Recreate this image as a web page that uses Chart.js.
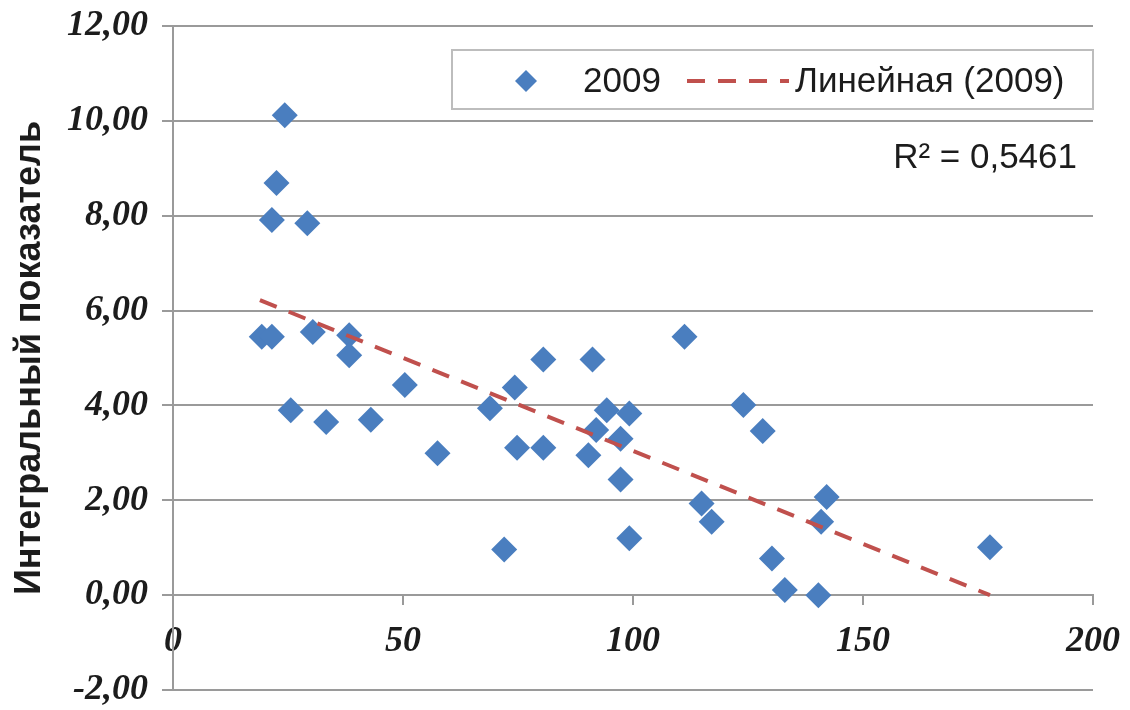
<!DOCTYPE html>
<html>
<head>
<meta charset="utf-8">
<script src="https://cdn.jsdelivr.net/npm/chart.js@4.4.1/dist/chart.umd.min.js"></script>
<style>
  html, body { margin: 0; padding: 0; background: #ffffff; }
  #wrap { width: 1130px; height: 710px; position: relative; }
</style>
</head>
<body>
<div id="wrap"><canvas id="c" width="1130" height="710"></canvas></div>
<script>
// Observations for 2009: x value and integral index
const xValues = [
  24.3, 22.5, 21.5, 29.2, 19.3, 21.5, 30.4, 38.3, 38.3, 50.4,
  25.6, 33.3, 43.0, 80.5, 91.2, 111.2, 74.3, 68.9, 94.3, 99.2,
  92.0, 97.3, 57.5, 74.8, 80.5, 90.3, 97.3, 99.2, 72.0, 124.0,
  128.2, 114.9, 117.1, 142.1, 140.9, 130.2, 133.0, 140.3, 177.6
];
const yValues = [
  10.12, 8.69, 7.91, 7.84, 5.45, 5.45, 5.55, 5.48, 5.06, 4.43,
  3.90, 3.65, 3.70, 4.97, 4.97, 5.45, 4.38, 3.94, 3.90, 3.83,
  3.48, 3.30, 2.99, 3.11, 3.11, 2.95, 2.44, 1.20, 0.96, 4.01,
  3.46, 1.93, 1.55, 2.07, 1.55, 0.77, 0.11, 0.00, 1.01
];

// Linear trend line end points
const trendX = [18.9, 177.6];
const trendY = [6.22, 0.00];

const seriesLabel = '2009';
const trendLabel = 'Линейная (2009)';
const rSquaredText = 'R² = 0,5461';
const yAxisTitle = 'Интегральный показатель';

// Axis ranges and tick steps
const xTicks = [0, 50, 100, 150, 200];
const yTicks = [-2, 0, 2, 4, 6, 8, 10, 12];

const BLUE = '#4A7EBF';
const RED = '#C0504D';
const GRID = '#9a9a9a';
const TEXT = '#1c1c1c';

const points = xValues.map((x, i) => ({ x: x, y: yValues[i] }));
const trend = trendX.map((x, i) => ({ x: x, y: trendY[i] }));

// Boxed legend and R² caption inside the plot area
const boxedLegend = {
  id: 'boxedLegend',
  afterDraw(chart) {
    const ctx = chart.ctx;
    const ds = chart.data.datasets;
    ctx.save();
    // frame
    ctx.fillStyle = '#ffffff';
    ctx.fillRect(452, 50, 641, 59);
    ctx.strokeStyle = '#bdbdbd';
    ctx.lineWidth = 2;
    ctx.strokeRect(452, 50, 641, 59);

    const cy = 81;
    // scatter marker
    ctx.fillStyle = ds[1].backgroundColor;
    ctx.beginPath();
    ctx.moveTo(526, cy - 11);
    ctx.lineTo(537, cy);
    ctx.lineTo(526, cy + 11);
    ctx.lineTo(515, cy);
    ctx.closePath();
    ctx.fill();

    ctx.font = '35px "Liberation Sans", Arial, sans-serif';
    ctx.fillStyle = TEXT;
    ctx.textBaseline = 'middle';
    ctx.textAlign = 'left';
    ctx.fillText(ds[1].label, 583, cy + 1);

    // trend sample
    ctx.strokeStyle = ds[0].borderColor;
    ctx.lineWidth = 4;
    ctx.setLineDash([18, 13]);
    ctx.beginPath();
    ctx.moveTo(687, cy);
    ctx.lineTo(789, cy);
    ctx.stroke();
    ctx.setLineDash([]);

    ctx.fillText(ds[0].label, 795, cy + 1);

    ctx.textAlign = 'right';
    ctx.fillText(rSquaredText, 1077, 158);
    ctx.restore();
  }
};

const serif = '"Liberation Serif", "Times New Roman", serif';

new Chart(document.getElementById('c'), {
  type: 'scatter',
  data: {
    datasets: [
      {
        type: 'line',
        label: trendLabel,
        data: trend,
        borderColor: RED,
        borderWidth: 4,
        borderDash: [18, 13],
        pointRadius: 0,
        fill: false,
        order: 0
      },
      {
        label: seriesLabel,
        data: points,
        pointStyle: 'rectRot',
        pointRadius: 13,
        backgroundColor: BLUE,
        borderColor: BLUE,
        borderWidth: 0,
        order: 1
      }
    ]
  },
  options: {
    responsive: false,
    animation: false,
    layout: { padding: { left: 0, right: 37, top: 26, bottom: 20 } },
    plugins: {
      legend: { display: false },
      tooltip: { enabled: false }
    },
    scales: {
      x: {
        type: 'linear',
        position: { y: 0 },
        min: xTicks[0],
        max: xTicks[xTicks.length - 1],
        afterBuildTicks(scale) { scale.ticks = xTicks.map(v => ({ value: v })); },
        afterFit(scale) {
          scale.paddingLeft = 0; scale.paddingRight = 0;
          scale.paddingTop = 0; scale.paddingBottom = 0;
        },
        grid: { drawOnChartArea: false, drawTicks: true, tickLength: 9, color: GRID, lineWidth: 2 },
        border: { display: true, color: GRID, width: 2 },
        ticks: {
          font: { family: serif, size: 36, weight: 'bold', style: 'italic', lineHeight: 1.2 },
          color: TEXT,
          padding: 16,
          maxRotation: 0,
          callback: v => String(v)
        }
      },
      y: {
        type: 'linear',
        position: 'left',
        min: yTicks[0],
        max: yTicks[yTicks.length - 1],
        afterBuildTicks(scale) { scale.ticks = yTicks.map(v => ({ value: v })); },
        afterFit(scale) {
          scale.width = 173;
          scale.paddingTop = 0; scale.paddingBottom = 0;
        },
        grid: { drawOnChartArea: true, drawTicks: true, tickLength: 11, color: GRID, lineWidth: 2 },
        border: { display: true, color: GRID, width: 2 },
        ticks: {
          font: { family: serif, size: 36, weight: 'bold', style: 'italic', lineHeight: 1.2 },
          color: TEXT,
          padding: 14,
          callback: v => v.toFixed(2).replace('.', ',')
        },
        title: {
          display: true,
          text: yAxisTitle,
          color: TEXT,
          font: { family: '"Liberation Sans", Arial, sans-serif', size: 36, weight: 'bold' },
          padding: { top: 8, bottom: 0 }
        }
      }
    }
  },
  plugins: [boxedLegend]
});
</script>
</body>
</html>
